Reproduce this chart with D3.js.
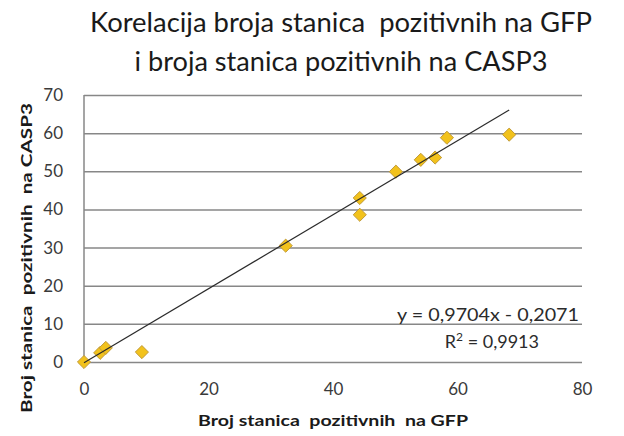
<!DOCTYPE html>
<html>
<head>
<meta charset="utf-8">
<script src="https://cdn.jsdelivr.net/npm/d3@7/dist/d3.min.js"></script>
<style>
  html, body { margin: 0; padding: 0; background: #fff; }
  svg { display: block; }
  svg text { white-space: pre; }
</style>
</head>
<body>
<script>
// GFP-positive vs CASP3-positive cell counts
const gfpCounts   = [0, 2.6, 3.5, 9.3, 32.4, 44.3, 44.3, 50.1, 54.1, 56.4, 58.3, 68.3];
const casp3Counts = [0, 2.4, 3.7, 2.6, 30.5, 43.0, 38.6, 49.9, 53.0, 53.6, 58.8, 59.6];

const xTicks = [0, 20, 40, 60, 80];
const yTicks = [0, 10, 20, 30, 40, 50, 60, 70];

// Linear trendline coefficients (as shown in the equation label)
const slope = 0.9704;
const intercept = -0.2071;
const rSquared = 0.9913;

const titleLines = ["Korelacija broja stanica  pozitivnih na GFP", "i broja stanica pozitivnih na CASP3"];
const xTitle = "Broj stanica  pozitivnih  na GFP";
const yTitle = "Broj stanica  pozitivnih  na CASP3";

const W = 624, H = 436;
const plot = { left: 84, right: 582, top: 95, bottom: 362 };

const svg = d3.select("body").append("svg").attr("width", W).attr("height", H);

const x = d3.scaleLinear().domain([0, 80]).range([plot.left, plot.right]);
const y = d3.scaleLinear().domain([0, 70]).range([plot.bottom, plot.top]);

const font = "Lato, 'Noto Sans', sans-serif";

// Title
svg.append("g").selectAll("text").data(titleLines).join("text")
  .attr("x", 341)
  .attr("y", (d, i) => 32 + i * 39)
  .attr("text-anchor", "middle")
  .attr("font-family", font)
  .attr("font-size", 26)
  .attr("fill", "#1a1a1a")
  .attr("textLength", (d, i) => i === 0 ? 502 : 413)
  .attr("lengthAdjust", "spacingAndGlyphs")
  .text(d => d);

// Horizontal gridlines
svg.append("g")
  .attr("transform", `translate(${plot.left},0)`)
  .call(d3.axisLeft(y).tickValues(yTicks).tickSize(-(plot.right - plot.left)).tickFormat(""))
  .call(g => g.select(".domain").remove())
  .call(g => g.selectAll(".tick line").attr("stroke", "#878787").attr("stroke-width", 1.5));

// Vertical axis line
svg.append("line")
  .attr("x1", plot.left).attr("x2", plot.left)
  .attr("y1", plot.top).attr("y2", plot.bottom)
  .attr("stroke", "#878787").attr("stroke-width", 1.5);

// Y tick labels
svg.append("g")
  .attr("transform", `translate(${plot.left},0)`)
  .call(d3.axisLeft(y).tickValues(yTicks).tickSize(0).tickPadding(21))
  .call(g => g.select(".domain").remove())
  .call(g => g.selectAll("text")
    .attr("font-family", font).attr("font-size", 17).attr("fill", "#3a3a3a"));

// X tick labels
svg.append("g")
  .attr("transform", `translate(0,${plot.bottom})`)
  .call(d3.axisBottom(x).tickValues(xTicks).tickSize(0).tickPadding(21))
  .call(g => g.select(".domain").remove())
  .call(g => g.selectAll("text")
    .attr("font-family", font).attr("font-size", 17).attr("fill", "#3a3a3a"));

// Axis titles
svg.append("text")
  .attr("x", 333).attr("y", 426)
  .attr("text-anchor", "middle")
  .attr("font-family", font).attr("font-size", 16).attr("font-weight", "bold")
  .attr("fill", "#1a1a1a")
  .attr("textLength", 270).attr("lengthAdjust", "spacingAndGlyphs")
  .text(xTitle);

svg.append("text")
  .attr("transform", "translate(32,258) rotate(-90)")
  .attr("text-anchor", "middle")
  .attr("font-family", font).attr("font-size", 16).attr("font-weight", "bold")
  .attr("fill", "#1a1a1a")
  .attr("textLength", 310).attr("lengthAdjust", "spacingAndGlyphs")
  .text(yTitle);

// Data points
const points = gfpCounts.map((v, i) => ({ gfp: v, casp3: casp3Counts[i] }));
const diamond = d3.symbol().type(d3.symbolDiamond2).size(110);

svg.append("g").selectAll("path").data(points).join("path")
  .attr("d", diamond)
  .attr("transform", d => `translate(${x(d.gfp)},${y(d.casp3)})`)
  .attr("fill", "#f2c21c")
  .attr("stroke", "#c09a3a")
  .attr("stroke-width", 1);

// Trendline across the observed GFP range
const xMin = d3.min(gfpCounts), xMax = d3.max(gfpCounts);
const trend = [xMin, xMax].map(v => ({ gfp: v, casp3: slope * v + intercept }));
svg.append("path")
  .datum(trend)
  .attr("d", d3.line().x(d => x(d.gfp)).y(d => y(d.casp3)))
  .attr("stroke", "#2b2b2b")
  .attr("stroke-width", 1.2)
  .attr("fill", "none");

// Equation and R² labels
const fmt = v => v.toFixed(4).replace(".", ",");
svg.append("text")
  .attr("x", 579).attr("y", 321)
  .attr("text-anchor", "end")
  .attr("font-family", font).attr("font-size", 18).attr("fill", "#2b2b2b")
  .attr("textLength", 182).attr("lengthAdjust", "spacingAndGlyphs")
  .text(`y = ${fmt(slope)}x - ${fmt(Math.abs(intercept))}`);

const r2 = svg.append("text")
  .attr("x", 539).attr("y", 348)
  .attr("text-anchor", "end")
  .attr("font-family", font).attr("font-size", 18).attr("fill", "#2b2b2b");
r2.append("tspan").text("R");
r2.append("tspan").attr("dy", -7).attr("font-size", 12).text("2");
r2.append("tspan").attr("dy", 7).text(` = ${fmt(rSquared)}`);
</script>
</body>
</html>
